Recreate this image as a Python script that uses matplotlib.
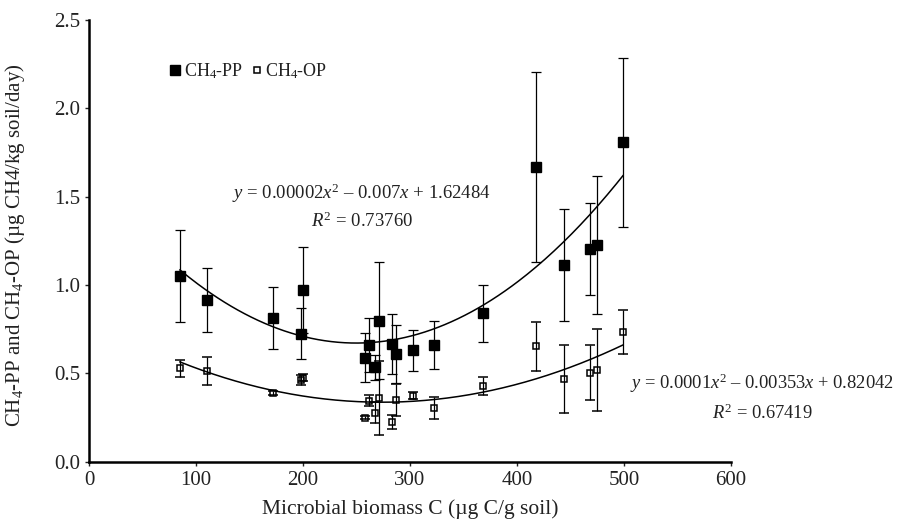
import matplotlib
matplotlib.use("Agg")
import matplotlib.pyplot as plt
from matplotlib.lines import Line2D
import numpy as np

plt.rcParams['font.family'] = ['Liberation Serif', 'DejaVu Serif']
plt.rcParams['mathtext.fontset'] = 'custom'
plt.rcParams['mathtext.rm'] = 'Liberation Serif'
plt.rcParams['mathtext.it'] = 'Liberation Serif:italic'

# CH4-PP (filled squares)
pp_x = [85, 110, 172, 198, 200, 258, 262, 267, 271, 283, 287, 303, 322, 368, 418, 444, 468, 475, 499]
pp_y = [1.05, 0.915, 0.815, 0.724, 0.972, 0.589, 0.66, 0.534, 0.798, 0.666, 0.608, 0.63, 0.66, 0.84, 1.668, 1.113, 1.206, 1.228, 1.807]
pp_err = [0.26, 0.18, 0.176, 0.144, 0.245, 0.14, 0.155, 0.07, 0.33, 0.17, 0.165, 0.115, 0.135, 0.16, 0.54, 0.315, 0.26, 0.39, 0.48]

# CH4-OP (open squares)
op_x = [85, 110, 172, 198, 200, 258, 262, 267, 271, 283, 287, 303, 322, 368, 418, 444, 468, 475, 499]
op_y = [0.528, 0.513, 0.389, 0.462, 0.475, 0.249, 0.345, 0.277, 0.362, 0.223, 0.349, 0.372, 0.306, 0.43, 0.653, 0.468, 0.504, 0.519, 0.732]
op_err = [0.05, 0.08, 0.01, 0.03, 0.02, 0.01, 0.03, 0.06, 0.21, 0.04, 0.09, 0.02, 0.062, 0.05, 0.14, 0.195, 0.157, 0.233, 0.125]

fig = plt.figure(figsize=(8.99, 5.25), dpi=100)
ax = fig.add_axes([0.099, 0.1206, 0.7141, 0.8413])

ax.errorbar(pp_x, pp_y, yerr=pp_err, fmt='s', color='black', ms=6.5,
            mfc='black', mec='black', ecolor='black', elinewidth=0.9,
            capsize=3.5, capthick=0.9, zorder=3)
ax.errorbar(op_x, op_y, yerr=op_err, fmt='s', color='black', ms=5,
            mfc='none', mec='black', mew=1.1, ecolor='black', elinewidth=0.9,
            capsize=3.5, capthick=0.9, zorder=3)

# quadratic trend lines
for xs, ys in [(pp_x, pp_y), (op_x, op_y)]:
    c = np.polyfit(xs, ys, 2)
    xx = np.linspace(min(xs), max(xs), 200)
    ax.plot(xx, np.polyval(c, xx), color='black', lw=1.1, zorder=2)

ax.set_xlim(0, 600)
ax.set_ylim(0, 2.5)
ax.set_xticks(np.arange(0, 601, 100))
ax.set_yticks(np.arange(0, 2.51, 0.5))
ax.set_yticklabels(['%.1f' % v for v in np.arange(0, 2.51, 0.5)])
for s in ['top', 'right']:
    ax.spines[s].set_visible(False)
for s in ['left', 'bottom']:
    ax.spines[s].set_linewidth(1.8)
ax.tick_params(direction='out', length=3, width=1, labelsize=15, colors='#222222')

ax.set_xlabel('Microbial biomass C (µg C/g soil)', fontsize=15.5, color='#222222', labelpad=7)
ax.set_ylabel('CH$_4$-PP and CH$_4$-OP (µg CH4/kg soil/day)', fontsize=15, color='#222222')
ax.yaxis.set_label_coords(-0.097, 0.49)

ax.text(255, 1.52, '$y$ = 0.00002$x^2$ – 0.007$x$ + 1.62484', ha='center', va='center',
        fontsize=13.5, color='#222222')
ax.text(255, 1.36, '$R^2$ = 0.73760', ha='center', va='center', fontsize=13.5, color='#222222')
ax.text(629, 0.445, '$y$ = 0.0001$x^2$ – 0.00353$x$ + 0.82042', ha='center', va='center',
        fontsize=13.3, color='#222222', clip_on=False)
ax.text(629, 0.275, '$R^2$ = 0.67419', ha='center', va='center', fontsize=13.3,
        color='#222222', clip_on=False)

handles = [Line2D([], [], ls='none', marker='s', ms=6.5, mfc='black', mec='black'),
           Line2D([], [], ls='none', marker='s', ms=5, mfc='none', mec='black', mew=1.1)]
ax.legend(handles, ['CH$_4$-PP', 'CH$_4$-OP'], ncol=2, frameon=False, fontsize=13,
          loc='center left', bbox_to_anchor=(0.115, 0.885), handlelength=0.6,
          handletextpad=0.15, columnspacing=0.5, borderaxespad=0, labelcolor='#222222')

fig.savefig('out.png', dpi=100)
